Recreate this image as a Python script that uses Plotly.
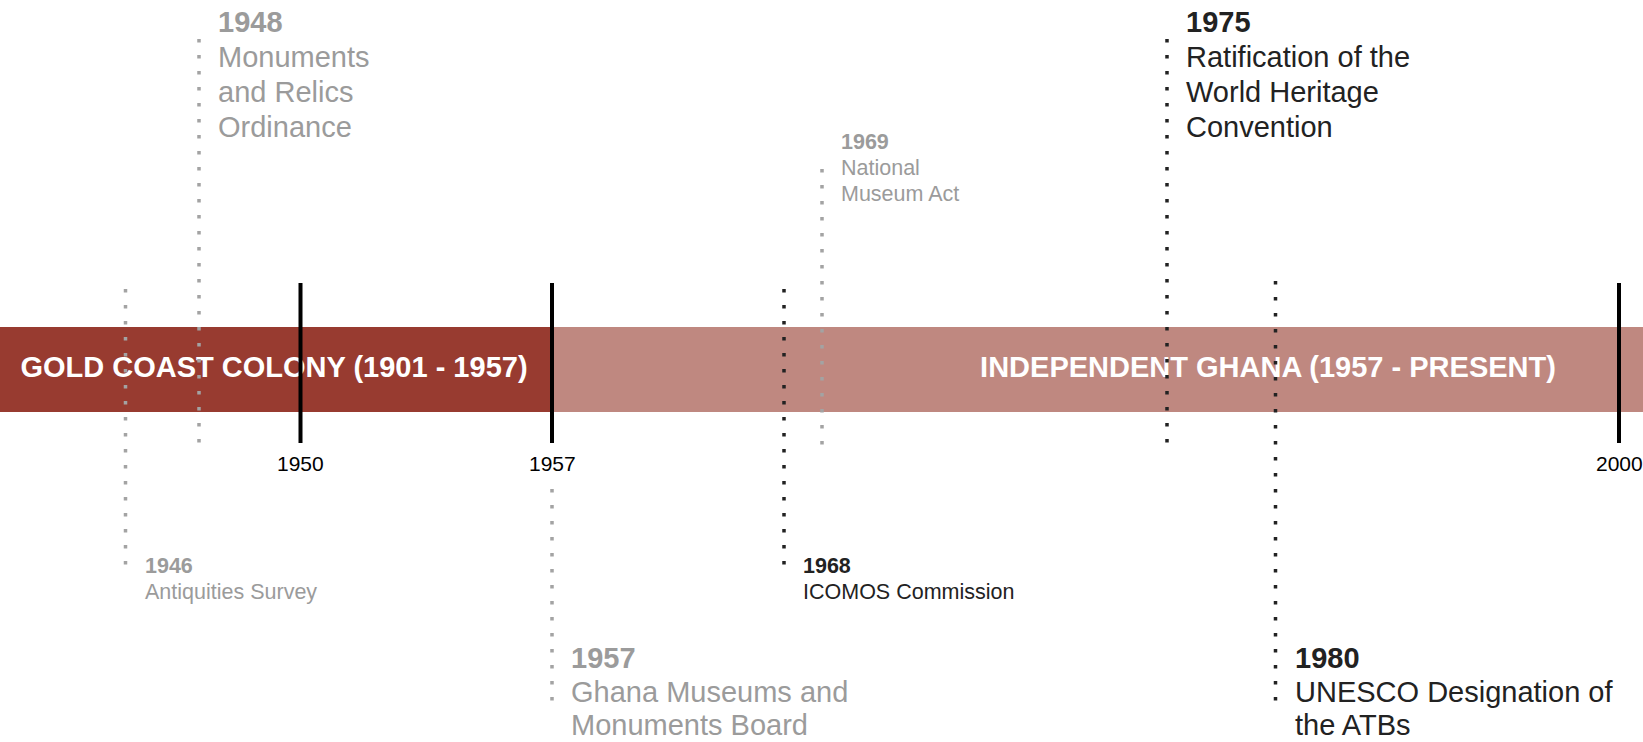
import plotly.graph_objects as go

# ---------------- data ----------------
era_names = ["GOLD COAST COLONY (1901 - 1957)", "INDEPENDENT GHANA (1957 - PRESENT)"]
era_start = ["1901", "1957"]
era_end = ["1957", "present"]

tick_years = ["1950", "1957", "2000"]

event_years = ["1946", "1948", "1957", "1968", "1969", "1975", "1980"]
event_titles = [
    ["Antiquities Survey"],
    ["Monuments", "and Relics", "Ordinance"],
    ["Ghana Museums and", "Monuments Board"],
    ["ICOMOS Commission"],
    ["National", "Museum Act"],
    ["Ratification of the", "World Heritage", "Convention"],
    ["UNESCO Designation of", "the ATBs"],
]
event_side = ["below", "above", "below", "below", "above", "above", "below"]
event_rank = ["minor", "major", "major", "minor", "minor", "major", "major"]
event_tone = ["muted", "muted", "muted", "strong", "muted", "strong", "strong"]

# ---------------- layout (hand-placed, non-linear timeline) ----------------
W, H = 1643, 742
TIMELINE_X = {"1901": 0, "1946": 125.5, "1948": 199, "1950": 300.5, "1957": 552,
              "1968": 784, "1969": 822, "1975": 1167, "1980": 1275.5,
              "2000": 1619, "present": W}
ERA_LABEL_X = [274, 1268]
BAND = (327, 412)
TICK_LINE = (283, 443)
TICK_LABEL_Y = 463
DOT = 3.5
TIERS = {
    ("above", "major"): dict(first=22, step=35, size=29, line=(39, 443)),
    ("above", "minor"): dict(first=142, step=26, size=21.5, line=(169, 441)),
    ("below", "minor"): dict(first=566, step=25.5, size=21.5, line=(289, 561)),
    ("below", "major"): dict(first=658, step=33.5, size=29, line=(281, 697)),
}
BELOW_TICK_LABEL = 489
TONES = {"muted": dict(text="#9b9b9b", line="#a3a3a3"),
         "strong": dict(text="#222222", line="#222222")}
ERA_COLORS = ["#983b30", "#bf8880"]
FONT = "Liberation Sans, Arial, Helvetica, sans-serif"

fig = go.Figure()

# era bands
for i, name in enumerate(era_names):
    fig.add_shape(type="rect", xref="x", yref="y",
                  x0=TIMELINE_X[era_start[i]], x1=TIMELINE_X[era_end[i]],
                  y0=BAND[0], y1=BAND[1], fillcolor=ERA_COLORS[i],
                  line=dict(width=0), layer="below")

# era labels (drawn under the markers)
fig.add_trace(go.Scatter(
    x=ERA_LABEL_X, y=[(BAND[0] + BAND[1]) / 2] * len(era_names),
    mode="text", text=[f"<b>{n}</b>" for n in era_names],
    textposition="middle center",
    textfont=dict(family=FONT, size=29, color="white"),
    hoverinfo="skip", showlegend=False))

# event dotted lines + labels
for yr, lines, side, rank, tone in zip(event_years, event_titles, event_side,
                                       event_rank, event_tone):
    tier = TIERS[(side, rank)]
    y0, y1 = tier["line"]
    if yr in tick_years:
        y0 = BELOW_TICK_LABEL
    xp = TIMELINE_X[yr]
    fig.add_trace(go.Scatter(
        x=[xp, xp], y=[y0, y1 + DOT], mode="lines",
        line=dict(color=TONES[tone]["line"], width=DOT,
                  dash=f"{DOT}px,{16 - DOT}px"),
        hoverinfo="skip", showlegend=False))
    for k, txt in enumerate([f"<b>{yr}</b>"] + lines):
        fig.add_annotation(
            x=xp, y=tier["first"] + k * tier["step"], xref="x", yref="y",
            text=txt, showarrow=False, xanchor="left", yanchor="middle",
            xshift=17, font=dict(family=FONT, size=tier["size"],
                                 color=TONES[tone]["text"]))

# solid year ticks
for yr in tick_years:
    xp = TIMELINE_X[yr]
    fig.add_trace(go.Scatter(
        x=[xp, xp], y=list(TICK_LINE), mode="lines",
        line=dict(color="black", width=4),
        hoverinfo="skip", showlegend=False))
    fig.add_annotation(x=xp, y=TICK_LABEL_Y, xref="x", yref="y", text=yr,
                       showarrow=False, xanchor="center", yanchor="middle",
                       font=dict(family=FONT, size=21, color="black"))

fig.update_layout(
    width=W, height=H, margin=dict(l=0, r=0, t=0, b=0),
    paper_bgcolor="white", plot_bgcolor="white",
    xaxis=dict(range=[0, W], visible=False, fixedrange=True),
    yaxis=dict(range=[H, 0], visible=False, fixedrange=True),
    hovermode=False, showlegend=False,
)

fig.write_html("out.html", config={"displayModeBar": False},
               post_script="document.body.style.margin='0';document.body.style.overflow='hidden';")
